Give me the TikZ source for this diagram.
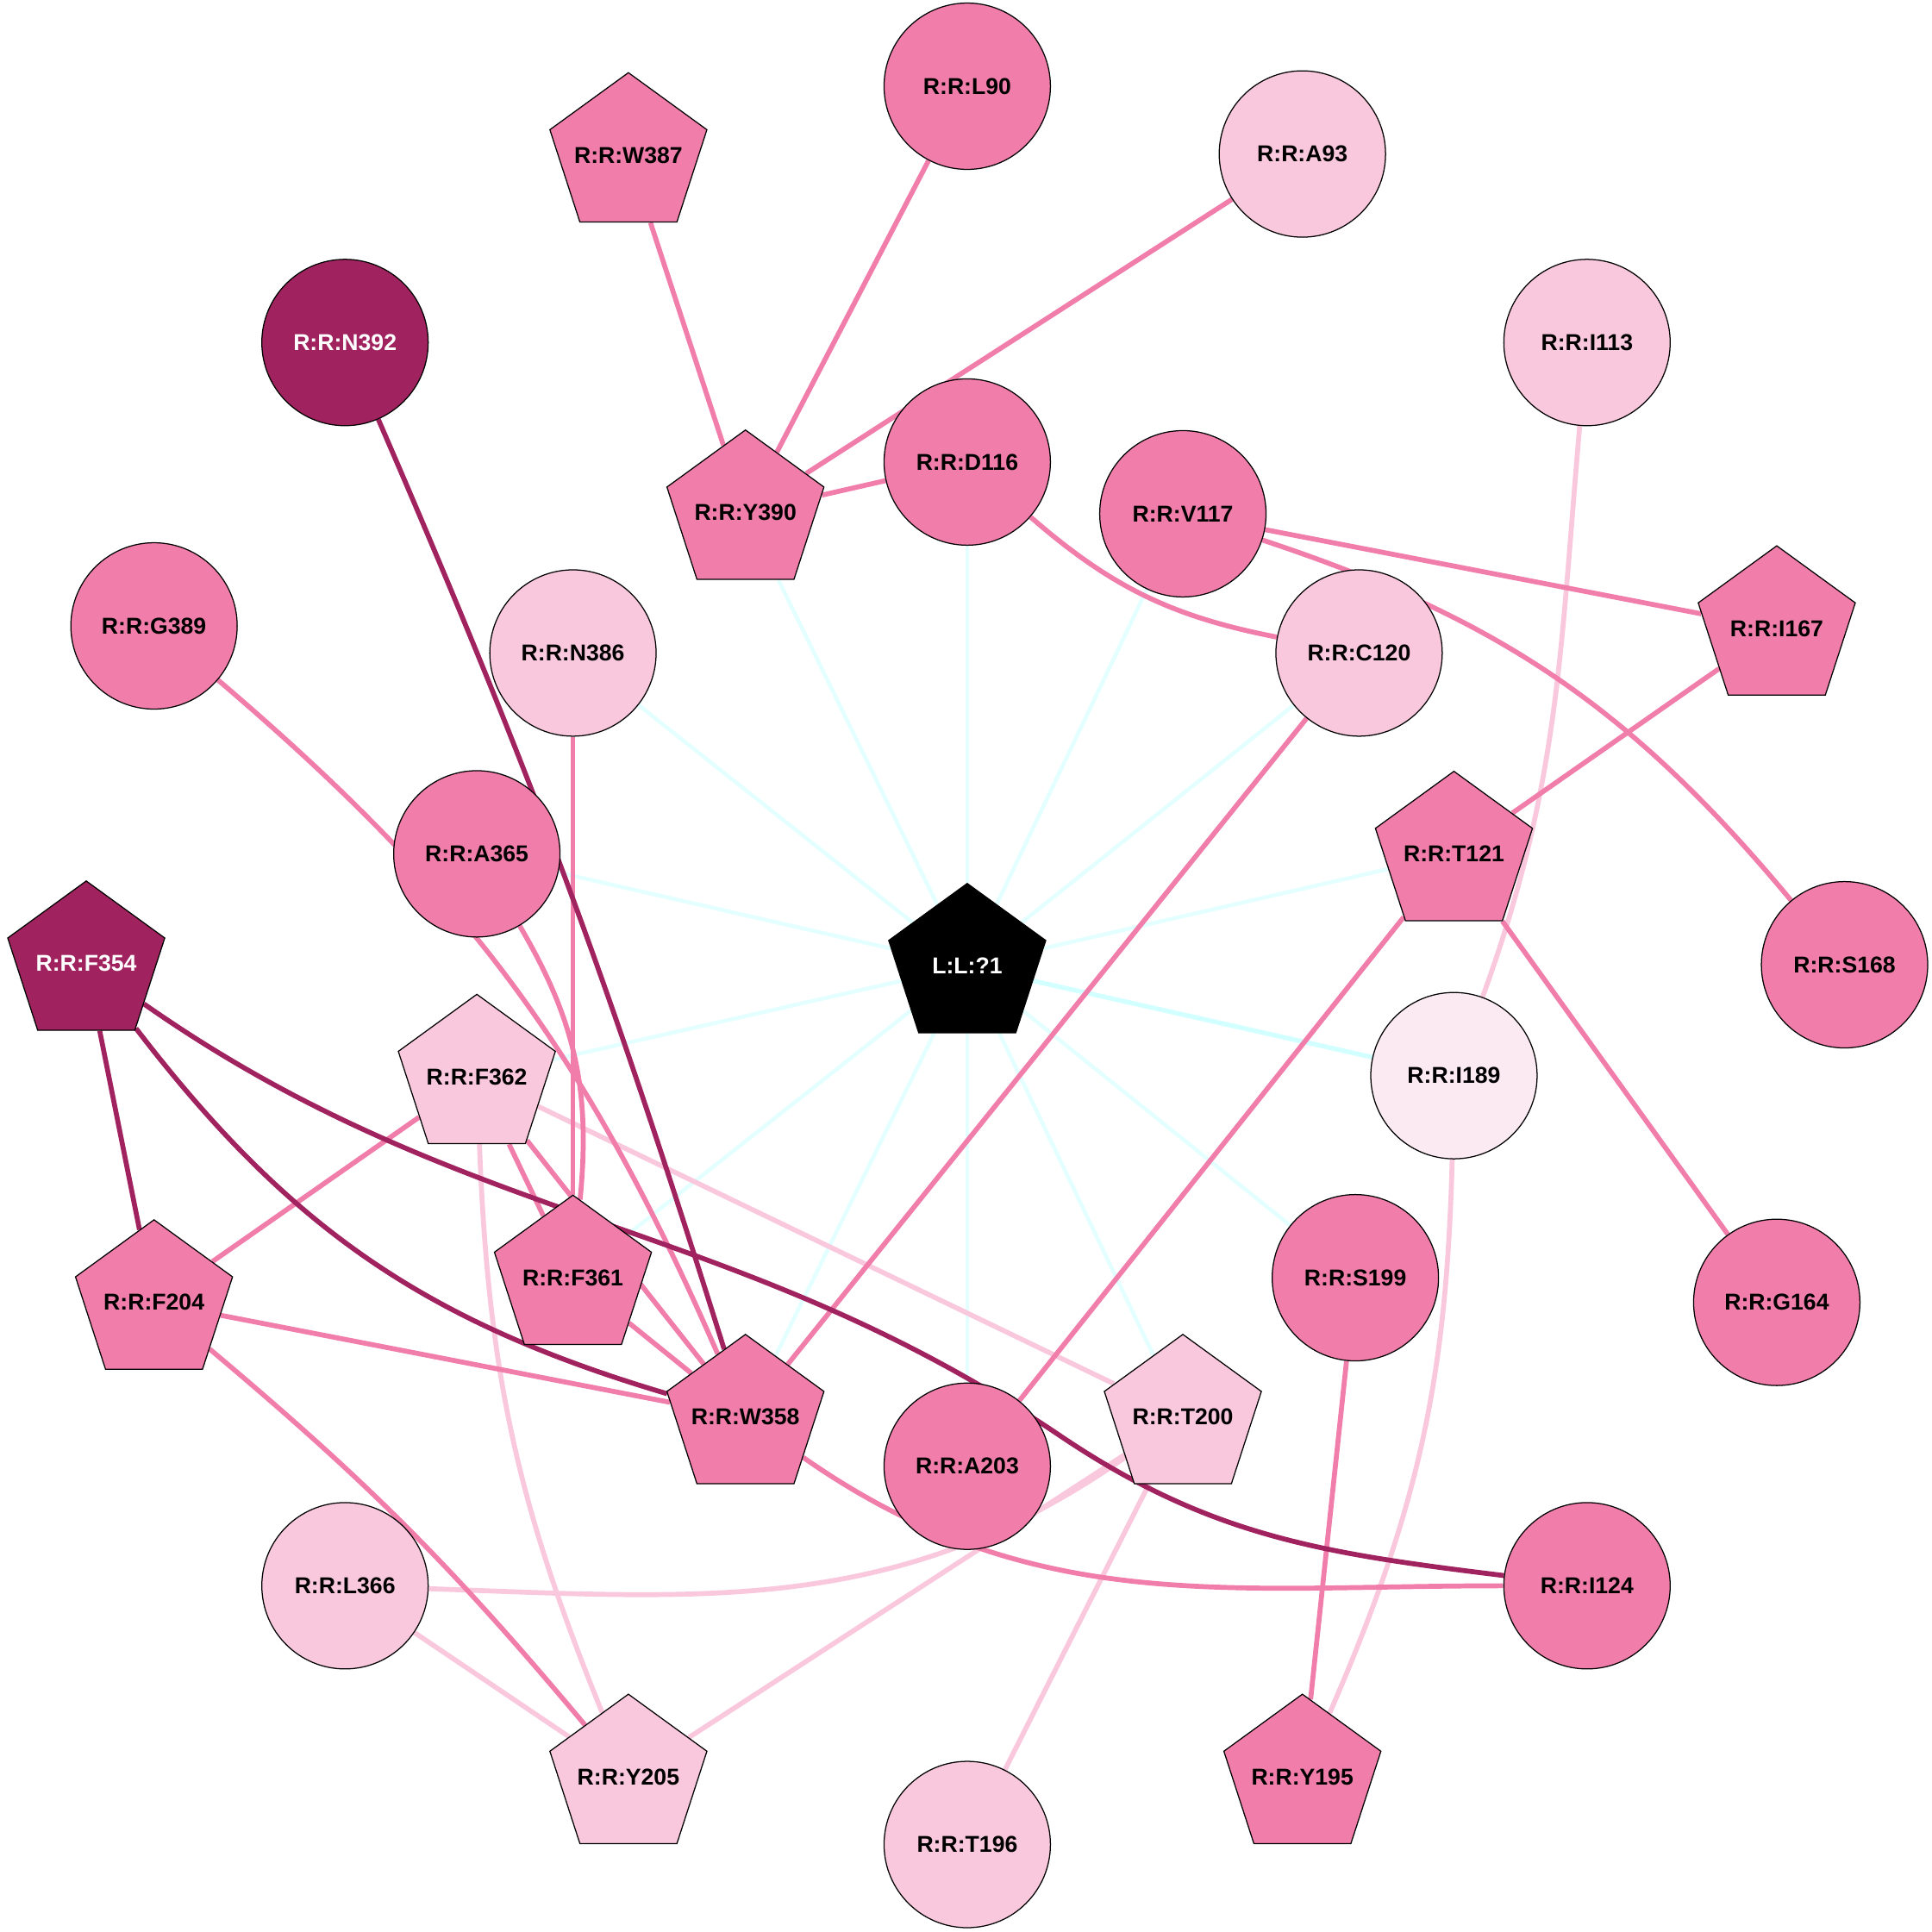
\documentclass[tikz,border=0pt]{standalone}
\usepackage{fontspec}
\setmainfont{Liberation Sans}
\usetikzlibrary{shapes.geometric,backgrounds}
\definecolor{pmid}{RGB}{240,125,170}
\definecolor{plight}{RGB}{249,200,221}
\definecolor{ppale}{RGB}{251,234,242}
\definecolor{pdark}{RGB}{160,34,94}
\definecolor{cyanedge}{RGB}{228,255,255}
\definecolor{cyanstrong}{RGB}{210,255,255}
\newcommand{\ptext}[1]{\makebox[0pt]{#1}}
\tikzset{
  res/.style={draw=black, line width=0.5pt, inner sep=0pt, font=\bfseries\fontsize{10.6}{12}\selectfont},
  rcirc/.style={res, circle, minimum size=27mm},
  rpent/.style={res, regular polygon, regular polygon sides=5, minimum size=26.8mm},
  fmid/.style={fill=pmid}, flight/.style={fill=plight},
  fpale/.style={fill=ppale}, fdark/.style={fill=pdark, text=white},
  eLig/.style={cyanedge, line width=0.65mm},
  eMid/.style={pmid, line width=0.8mm},
  eDark/.style={pdark, line width=0.8mm},
  eLight/.style={plight, line width=0.8mm}
}
\begin{document}
\begin{tikzpicture}[x=0.2mm, y=0.2mm]
    \useasboundingbox (0,0) rectangle (1568,1568);
    % ligand
    \node[rpent, fill=black, text=white] (lig) at (785,784) {\ptext{L:L:?1}};
    % pentagons
    \node[rpent, fmid] (W387) at (510,1442) {\ptext{R:R:W387}};
    \node[rpent, fmid] (Y390) at (605,1152) {\ptext{R:R:Y390}};
    \node[rpent, fmid] (I167) at (1442,1058) {\ptext{R:R:I167}};
    \node[rpent, fmid] (T121) at (1180,875) {\ptext{R:R:T121}};
    \node[rpent, fdark] (F354) at (70,786) {\ptext{R:R:F354}};
    \node[rpent, flight] (F362) at (387,694) {\ptext{R:R:F362}};
    \node[rpent, fmid] (F361) at (465,531) {\ptext{R:R:F361}};
    \node[rpent, fmid] (F204) at (125,511) {\ptext{R:R:F204}};
    \node[rpent, fmid] (W358) at (605,418) {\ptext{R:R:W358}};
    \node[rpent, flight] (T200) at (960,418) {\ptext{R:R:T200}};
    \node[rpent, flight] (Y205) at (510,126) {\ptext{R:R:Y205}};
    \node[rpent, fmid] (Y195) at (1057,126) {\ptext{R:R:Y195}};
    % circles
    \node[rcirc, fmid] (L90) at (785,1498) {R:R:L90};
    \node[rcirc, flight] (A93) at (1057,1443) {R:R:A93};
    \node[rcirc, fdark] (N392) at (280,1290) {R:R:N392};
    \node[rcirc, flight] (I113) at (1288,1290) {R:R:I113};
    \node[rcirc, fmid] (D116) at (785,1193) {R:R:D116};
    \node[rcirc, fmid] (V117) at (960,1151) {R:R:V117};
    \node[rcirc, fmid] (G389) at (125,1060) {R:R:G389};
    \node[rcirc, flight] (N386) at (465,1038) {R:R:N386};
    \node[rcirc, flight] (C120) at (1103,1038) {R:R:C120};
    \node[rcirc, fmid] (A365) at (387,875) {R:R:A365};
    \node[rcirc, fmid] (S168) at (1497,785) {R:R:S168};
    \node[rcirc, fpale] (I189) at (1180,695) {R:R:I189};
    \node[rcirc, fmid] (S199) at (1100,531) {R:R:S199};
    \node[rcirc, fmid] (G164) at (1442,511) {R:R:G164};
    \node[rcirc, fmid] (A203) at (785,378) {R:R:A203};
    \node[rcirc, flight] (L366) at (280,281) {R:R:L366};
    \node[rcirc, fmid] (I124) at (1288,281) {R:R:I124};
    \node[rcirc, flight] (T196) at (785,71) {R:R:T196};
    \coordinate (k1) at (860,403);

    \begin{scope}[on background layer]
    % ligand contacts
    \foreach \r in {Y390,D116,V117,C120,N386,A365,T121,F362,F361,W358,A203,T200,S199}
        \draw[eLig] (lig) -- (\r);
    \draw[eLig, cyanstrong, line width=0.75mm] (lig) -- (I189);
    % light
    \draw[eLight] (I113) to[out=-95, in=70] (I189);
    \draw[eLight] (I189) to[bend left=11] (Y195);
    \draw[eLight] (F362) to[bend right=10] (Y205);
    \draw[eLight] (F362) -- (T200);
    \draw[eLight] (L366) to[out=-2, in=-145] (T200);
    \draw[eLight] (L366) -- (Y205);
    \draw[eLight] (Y205) -- (T200);
    \draw[eLight] (T200) -- (T196);
    % mid
    \draw[eMid] (W387) -- (Y390);
    \draw[eMid] (L90) -- (Y390);
    \draw[eMid] (A93) -- (Y390);
    \draw[eMid] (Y390) -- (D116);
    \draw[eMid] (D116) to[bend right=15] (C120);
    \draw[eMid] (V117) -- (I167);
    \draw[eMid] (V117) to[bend left=16] (S168);
    \draw[eMid] (I167) -- (T121);
    \draw[eMid] (T121) -- (G164);
    \draw[eMid] (T121) -- (A203);
    \draw[eMid] (C120) -- (W358);
    \draw[eMid] (G389) to[bend left=13] (W358);
    \draw[eMid] (N386) -- (F361);
    \draw[eMid] (A365) to[bend left=18] (F361);
    \draw[eMid] (F362) -- (F361);
    \draw[eMid] (F362) -- (W358);
    \draw[eMid] (F362) -- (F204);
    \draw[eMid] (F361) -- (W358);
    \draw[eMid] (F204) -- (W358);
    \draw[eMid] (F204) to[bend left=5] (Y205);
    \draw[eMid] (W358) to[out=-35, in=180] (I124);
    \draw[eMid] (S199) -- (Y195);
    % dark
    \draw[eDark] (N392) to[bend left=3] (W358);
    \draw[eDark] (F354) -- (F204);
    \draw[eDark] (F354) to[bend right=18] (W358);
    \draw[eDark] (F354) to[out=-35, in=146] (k1) to[out=-34, in=173] (I124);
    \end{scope}
\end{tikzpicture}
\end{document}
